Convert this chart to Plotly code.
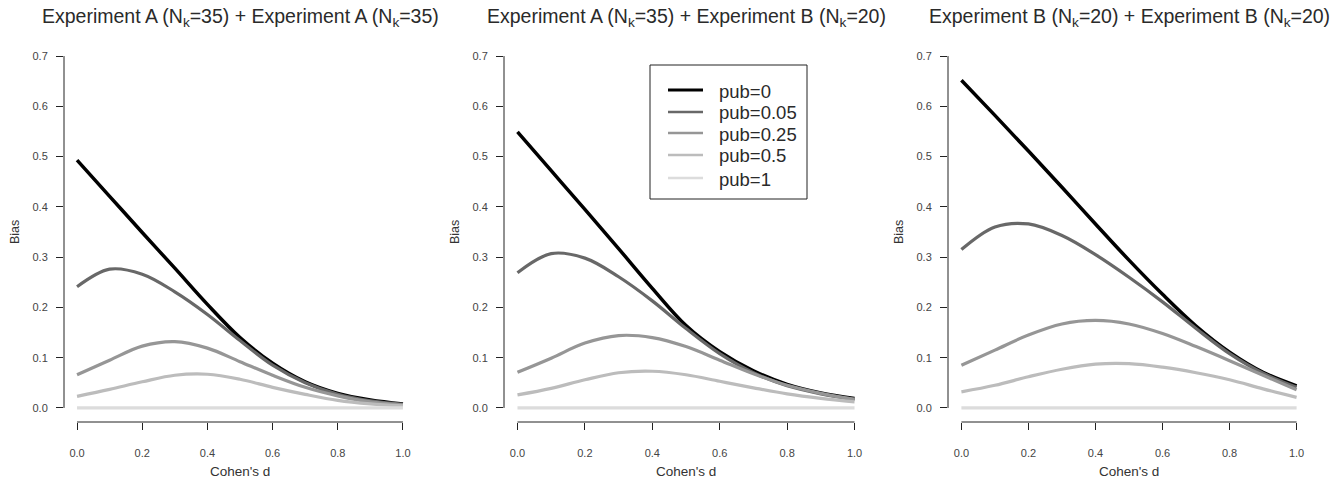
import plotly.graph_objects as go

# ---------------- data ----------------
cohens_d = [0.0, 0.1, 0.2, 0.3, 0.4, 0.5, 0.6, 0.7, 0.8, 0.9, 1.0]
pub_labels = ["pub=0", "pub=0.05", "pub=0.25", "pub=0.5", "pub=1"]
panel_titles = [
    "Experiment A (N<sub>k</sub>=35) + Experiment A (N<sub>k</sub>=35)",
    "Experiment A (N<sub>k</sub>=35) + Experiment B (N<sub>k</sub>=20)",
    "Experiment B (N<sub>k</sub>=20) + Experiment B (N<sub>k</sub>=20)",
]
x_ticks = [0.0, 0.2, 0.4, 0.6, 0.8, 1.0]
x_ticktext = ["0.0", "0.2", "0.4", "0.6", "0.8", "1.0"]
y_ticks = [0.0, 0.1, 0.2, 0.3, 0.4, 0.5, 0.6, 0.7]
y_ticktext = ["0.0", "0.1", "0.2", "0.3", "0.4", "0.5", "0.6", "0.7"]

# Panel 1: Experiment A + Experiment A
p1_pub0 = [0.493, 0.421, 0.349, 0.278, 0.206, 0.140, 0.089, 0.052, 0.029, 0.016, 0.008]
p1_pub005 = [0.241, 0.276, 0.266, 0.231, 0.186, 0.134, 0.085, 0.050, 0.027, 0.014, 0.007]
p1_pub025 = [0.066, 0.095, 0.123, 0.132, 0.119, 0.092, 0.065, 0.041, 0.024, 0.012, 0.006]
p1_pub05 = [0.023, 0.037, 0.052, 0.065, 0.067, 0.057, 0.041, 0.027, 0.015, 0.008, 0.004]
p1_pub1 = [0.0, 0.0, 0.0, 0.0, 0.0, 0.0, 0.0, 0.0, 0.0, 0.0, 0.0]

# Panel 2: Experiment A + Experiment B
p2_pub0 = [0.549, 0.472, 0.395, 0.317, 0.238, 0.164, 0.112, 0.074, 0.047, 0.030, 0.019]
p2_pub005 = [0.269, 0.307, 0.298, 0.261, 0.213, 0.158, 0.108, 0.070, 0.044, 0.028, 0.017]
p2_pub025 = [0.071, 0.099, 0.129, 0.144, 0.140, 0.122, 0.095, 0.068, 0.045, 0.029, 0.017]
p2_pub05 = [0.026, 0.039, 0.056, 0.070, 0.073, 0.066, 0.053, 0.040, 0.028, 0.019, 0.012]
p2_pub1 = [0.0, 0.0, 0.0, 0.0, 0.0, 0.0, 0.0, 0.0, 0.0, 0.0, 0.0]

# Panel 3: Experiment B + Experiment B
p3_pub0 = [0.652, 0.582, 0.511, 0.439, 0.366, 0.294, 0.226, 0.163, 0.111, 0.071, 0.044]
p3_pub005 = [0.315, 0.360, 0.366, 0.343, 0.305, 0.260, 0.211, 0.158, 0.108, 0.069, 0.041]
p3_pub025 = [0.085, 0.115, 0.145, 0.167, 0.174, 0.167, 0.148, 0.122, 0.094, 0.065, 0.036]
p3_pub05 = [0.032, 0.045, 0.062, 0.077, 0.087, 0.088, 0.081, 0.070, 0.056, 0.038, 0.021]
p3_pub1 = [0.0, 0.0, 0.0, 0.0, 0.0, 0.0, 0.0, 0.0, 0.0, 0.0, 0.0]

panels = [
    [p1_pub0, p1_pub005, p1_pub025, p1_pub05, p1_pub1],
    [p2_pub0, p2_pub005, p2_pub025, p2_pub05, p2_pub1],
    [p3_pub0, p3_pub005, p3_pub025, p3_pub05, p3_pub1],
]

# ---------------- styles ----------------
W, H = 1339, 480
line_colors = ["#000000", "#686868", "#969696", "#bcbcbc", "#dcdcdc"]
line_widths = [3.5, 3.2, 3.2, 3.2, 3.2]
FONT = "Liberation Sans, Arial, Helvetica, sans-serif"


def px_x(p):
    return p / W


def px_y(p):
    return 1 - p / H


x_domains_px = [(64, 416), (504, 868), (948, 1310)]
y_domain = [px_y(422), px_y(42)]

fig = go.Figure()

for i, series in enumerate(panels):
    ax = "" if i == 0 else str(i + 1)
    for j, vals in enumerate(series):
        fig.add_trace(go.Scatter(
            x=cohens_d, y=vals, mode="lines",
            line=dict(color=line_colors[j], width=line_widths[j], shape="spline", smoothing=1.0),
            name=pub_labels[j], showlegend=False,
            xaxis="x" + ax, yaxis="y" + ax,
        ))

layout = dict(
    width=W, height=H,
    margin=dict(l=0, r=0, t=0, b=0),
    paper_bgcolor="white", plot_bgcolor="white",
    font=dict(family=FONT, color="#333333"),
    showlegend=False,
)

shapes = []
annotations = []
for i, (l, r) in enumerate(x_domains_px):
    ax = "" if i == 0 else str(i + 1)
    xa = "xaxis" + ax
    ya = "yaxis" + ax
    layout[xa] = dict(
        domain=[px_x(l), px_x(r)], range=[-0.04, 1.04], anchor="y" + ax,
        showgrid=False, zeroline=False, showline=False,
        ticks="outside", ticklen=7, tickwidth=1, tickcolor="#222222",
        tickvals=x_ticks, ticktext=x_ticktext, ticklabelstandoff=14,
        tickfont=dict(size=11, color="#444444", family=FONT), fixedrange=True,
    )
    layout[ya] = dict(
        domain=y_domain, range=[-0.028, 0.728], anchor="x" + ax,
        showgrid=False, zeroline=False, showline=False,
        ticks="outside", ticklen=7, tickwidth=1, tickcolor="#222222",
        tickvals=y_ticks, ticktext=y_ticktext, ticklabelstandoff=6,
        tickfont=dict(size=11, color="#444444", family=FONT), fixedrange=True,
    )
    # R-style axis lines spanning only the tick range
    shapes.append(dict(type="line", xref="x" + ax, yref="y" + ax + " domain",
                       x0=0, x1=1, y0=0, y1=0, line=dict(color="#222222", width=1)))
    shapes.append(dict(type="line", xref="x" + ax + " domain", yref="y" + ax,
                       x0=0, x1=0, y0=0, y1=0.7, line=dict(color="#222222", width=1)))
    # titles
    annotations.append(dict(text=panel_titles[i], xref="paper", yref="paper",
                            x=px_x((l + r) / 2), y=px_y(18), xanchor="center", yanchor="middle",
                            showarrow=False, font=dict(size=19.5, color="#2a2a2a", family=FONT)))
    # axis titles
    annotations.append(dict(text="Cohen's d", xref="x" + ax, yref="paper",
                            x=0.5, y=px_y(471), xanchor="center", yanchor="middle",
                            showarrow=False, font=dict(size=13.5, color="#333333", family=FONT)))
    annotations.append(dict(text="Bias", xref="paper", yref="paper",
                            x=px_x(l - 49), y=px_y(232), xanchor="center", yanchor="middle",
                            textangle=-90, showarrow=False,
                            font=dict(size=12.5, color="#333333", family=FONT)))

# legend (drawn in the middle panel, as in the original)
box_l, box_t, box_r, box_b = 650, 65, 807, 199
shapes.append(dict(type="rect", xref="paper", yref="paper",
                   x0=px_x(box_l), x1=px_x(box_r), y0=px_y(box_b), y1=px_y(box_t),
                   line=dict(color="#222222", width=1), fillcolor="white"))
row_y = [90, 112, 133, 155, 178]
for j, lab in enumerate(pub_labels):
    shapes.append(dict(type="line", xref="paper", yref="paper",
                       x0=px_x(668), x1=px_x(703), y0=px_y(row_y[j]), y1=px_y(row_y[j]),
                       line=dict(color=line_colors[j], width=line_widths[j] - 0.5)))
    annotations.append(dict(text=lab, xref="paper", yref="paper",
                            x=px_x(717), y=px_y(row_y[j] + 1), xanchor="left", yanchor="middle",
                            showarrow=False, font=dict(size=18.5, color="#2a2a2a", family=FONT)))

layout["shapes"] = shapes
layout["annotations"] = annotations
fig.update_layout(**layout)

fig.write_html(
    "out.html",
    config={"displayModeBar": False, "staticPlot": True},
    post_script="document.body.style.margin='0px';document.body.style.padding='0px';"
                "document.body.style.overflow='hidden';",
)
